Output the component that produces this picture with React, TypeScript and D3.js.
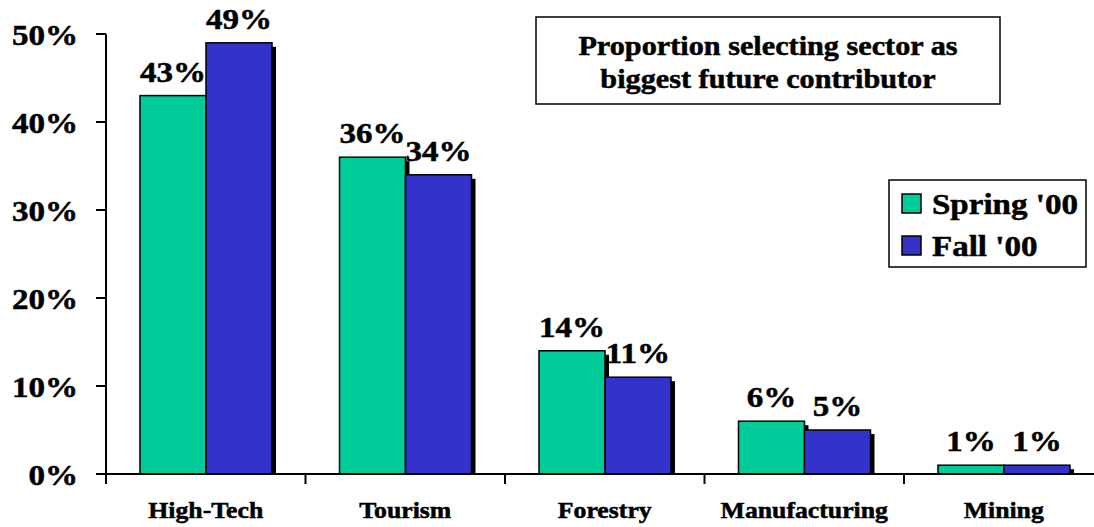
import * as d3 from 'd3'

// chart data
const categories = ['High-Tech', 'Tourism', 'Forestry', 'Manufacturing', 'Mining']
const seriesNames = ["Spring '00", "Fall '00"]
const spring = [43, 36, 14, 6, 1]
const fall = [49, 34, 11, 5, 1]
const yTicks = [0, 10, 20, 30, 40, 50]
const titleLines = ['Proportion selecting sector as', 'biggest future contributor']

const COLORS = ['#00CC99', '#3333CC']
const FONT = '"Liberation Serif", "Times New Roman", serif'
const SX = 1.12 // old PowerPoint text is a bit wider than Times

const W = 1094
const H = 527

function Txt({ x, y, size, anchor = 'middle', children }) {
  return (
    <g transform={`translate(${x},${y}) scale(${SX},1)`}>
      <text textAnchor={anchor} fontFamily={FONT} fontWeight="bold" fontSize={size}
        fill="#000" stroke="#000" strokeWidth={0.5}>
        {children}
      </text>
    </g>
  )
}

export default function App() {
  const y = d3.scaleLinear().domain([0, 50]).range([474, 34])
  const x0 = d3.scaleBand().domain(categories).range([106, 106 + 199.5 * 5])
  const x1 = d3.scaleBand().domain(seriesNames).range([34, 166])

  const rows = categories.map((c, i) => ({ c, vals: [spring[i], fall[i]] }))
  const base = y(0)

  return (
    <div style={{ position: 'fixed', left: 0, top: 0 }}>
      <svg width={W} height={H} style={{ display: 'block', background: '#fff' }}>
        {/* drop shadows first, bars cover them */}
        {rows.map(r =>
          r.vals.map((v, j) => {
            const bx = x0(r.c) + x1(seriesNames[j])
            return (
              <rect key={`s${r.c}${j}`} x={bx + 4} y={y(v) + 4}
                width={x1.bandwidth()} height={Math.max(0, base - y(v) - 4)} fill="#000" />
            )
          })
        )}
        {rows.map(r =>
          r.vals.map((v, j) => {
            const bx = x0(r.c) + x1(seriesNames[j])
            return (
              <rect key={`b${r.c}${j}`} x={bx} y={y(v)} width={x1.bandwidth()}
                height={base - y(v)} fill={COLORS[j]} stroke="#000" strokeWidth={1.5} />
            )
          })
        )}
        {/* value labels */}
        {rows.map(r =>
          r.vals.map((v, j) => {
            const bx = x0(r.c) + x1(seriesNames[j]) + x1.bandwidth() / 2
            return (
              <Txt key={`l${r.c}${j}`} x={bx} y={y(v) - 14} size={29.5}>{v}%</Txt>
            )
          })
        )}

        {/* y axis */}
        <line x1={106} x2={106} y1={y(50)} y2={base} stroke="#000" strokeWidth={2} />
        {yTicks.map(t => (
          <g key={t}>
            <line x1={96} x2={106} y1={y(t)} y2={y(t)} stroke="#000" strokeWidth={2} />
            <Txt x={78} y={y(t) + 11} size={29.5} anchor="end">{t}%</Txt>
          </g>
        ))}

        {/* x axis */}
        <line x1={96} x2={W} y1={base} y2={base} stroke="#000" strokeWidth={2} />
        {categories.map(c => (
          <g key={c}>
            <line x1={x0(c)} x2={x0(c)} y1={base} y2={base + 10} stroke="#000" strokeWidth={2} />
            <Txt x={x0(c) + x0.bandwidth() / 2} y={518} size={23}>{c}</Txt>
          </g>
        ))}

        {/* title box */}
        <rect x={536} y={17} width={464} height={87} fill="#fff" stroke="#000" strokeWidth={1.5} />
        {titleLines.map((t, i) => (
          <Txt key={t} x={768} y={55 + i * 33} size={27}>{t}</Txt>
        ))}

        {/* legend */}
        <rect x={889} y={180} width={197} height={87} fill="#fff" stroke="#000" strokeWidth={1.5} />
        {seriesNames.map((s, i) => (
          <g key={s}>
            <rect x={902} y={194 + i * 42} width={19} height={19} fill={COLORS[i]} stroke="#000" strokeWidth={1.5} />
            <Txt x={932} y={214 + i * 42} size={29.5} anchor="start">{s}</Txt>
          </g>
        ))}
      </svg>
    </div>
  )
}
